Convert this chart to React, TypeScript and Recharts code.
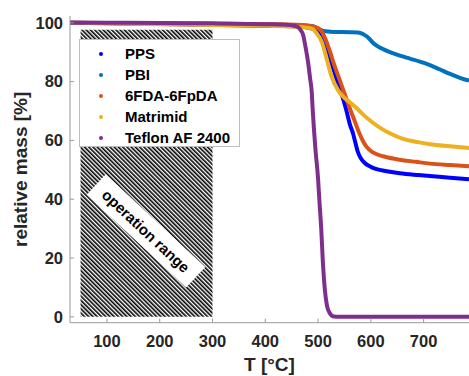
import React from 'react';
import {
  LineChart,
  Line,
  XAxis,
  YAxis,
  Legend,
  ReferenceArea,
  ReferenceDot,
} from 'recharts';

// TGA curves: [T in °C, relative mass in %]
const PPS = [
  [30, 100], [100, 99.8], [200, 99.6], [300, 99.3], [400, 99.0], [450, 98.8],
  [480, 98.4], [495, 97.6], [505, 95.5], [516, 90.5], [525, 86.5], [535, 81],
  [545, 75.5], [551, 72], [556, 68.5], [561, 65], [566, 62.5], [571, 59],
  [575, 56.3], [580, 54.2], [589, 52.2], [600, 51], [611, 50.2], [630, 49.5],
  [655, 48.8], [690, 48.2], [717, 47.8], [750, 47.3], [786, 46.8],
];

const PBI = [
  [30, 100], [100, 99.9], [200, 99.8], [300, 99.6], [400, 99.4], [460, 99.2],
  [490, 98.8], [500, 98], [510, 97.2], [530, 96.9], [560, 96.8], [575, 96.7],
  [585, 96.2], [592, 95.4], [598, 94.4], [604, 93.2], [611, 92.2], [620, 91.3],
  [636, 90], [655, 88.8], [674, 87.8], [693, 86.8], [712, 85.6], [730, 84.2],
  [750, 82.6], [770, 81.2], [786, 80.3],
];

const FDA = [
  [30, 100], [100, 99.9], [200, 99.8], [300, 99.7], [400, 99.5], [460, 99.3],
  [480, 99], [495, 98.6], [507, 97], [515, 94], [522, 90.5], [530, 86],
  [538, 82], [546, 78], [554, 74], [562, 70], [570, 66.3], [578, 62.5],
  [585, 59.8], [592, 57.8], [604, 55.9], [623, 54.6], [649, 53.6], [686, 52.7],
  [712, 52.1], [750, 51.6], [786, 51.2],
];

const MATRIMID = [
  [30, 100], [100, 99.8], [200, 99.5], [300, 99.2], [400, 99], [440, 98.8],
  [470, 98.5], [488, 98], [497, 96.5], [507, 93.5], [516, 88], [525, 82],
  [538, 77], [547, 75], [560, 73], [573, 71], [587, 68.5], [604, 66],
  [620, 64], [636, 62.4], [661, 60.5], [690, 59.4], [712, 58.7], [750, 58],
  [786, 57.4],
];

const TEFLON = [
  [30, 100], [100, 100], [200, 99.9], [300, 99.8], [400, 99.5], [440, 99.3],
  [455, 99], [462, 98.5], [467, 97.5], [472, 95.7], [476, 92], [481, 86.7],
  [485, 81], [488, 76.5], [490, 70], [495, 57], [500, 47], [502, 41],
  [506, 30], [509, 19], [513, 9], [517, 3.7], [522, 1.3], [528, 0.2],
  [540, 0], [786, 0],
];

const SERIES = [
  { name: 'PPS', color: '#0000ff', points: PPS },
  { name: 'PBI', color: '#0072bd', points: PBI },
  { name: '6FDA-6FpDA', color: '#d95319', points: FDA },
  { name: 'Matrimid', color: '#edb120', points: MATRIMID },
  { name: 'Teflon AF 2400', color: '#7e2f8e', points: TEFLON },
];

const X_TICKS = [100, 200, 300, 400, 500, 600, 700];
const Y_TICKS = [0, 20, 40, 60, 80, 100];
const OPERATION_RANGE = { from: 50, to: 300, top: 97.6 };

const FONT = '"Liberation Sans", Arial, sans-serif';
const AXIS_GREY = '#999999';
const TEXT_DARK = '#262626';

const toRows = (pts: number[][]) => pts.map(([t, m]) => ({ t, m }));

// legend keeps the plotting order (recharts would sort it by name)
function LegendBox() {
  return (
    <div
      style={{
        width: 161,
        height: 108,
        boxSizing: 'border-box',
        background: '#fff',
        border: '1px solid #bdbdbd',
        paddingTop: 3,
        fontFamily: FONT,
        fontWeight: 'bold',
        fontSize: 15,
        color: '#000',
      }}
    >
      {SERIES.map((s) => (
        <div key={s.name} style={{ height: 21, display: 'flex', alignItems: 'center' }}>
          <span
            style={{
              width: 4,
              height: 4,
              borderRadius: 2,
              background: s.color,
              marginLeft: 19,
              marginRight: 22,
            }}
          />
          <span>{s.name}</span>
        </div>
      ))}
    </div>
  );
}

function RangeLabel({ cx, cy }: any) {
  if (cx == null || cy == null) return null;
  return (
    <g transform={`rotate(43 ${cx} ${cy})`}>
      <rect x={cx - 68} y={cy - 14} width={136} height={28} fill="#fff" />
      <text
        x={cx}
        y={cy}
        textAnchor="middle"
        dominantBaseline="central"
        fontFamily={FONT}
        fontWeight="bold"
        fontSize={15}
        fill="#000"
      >
        operation range
      </text>
    </g>
  );
}

export default function App() {
  const tickStyle = { fill: TEXT_DARK, fontSize: 16.5, fontWeight: 'bold', fontFamily: FONT };
  return (
    <div style={{ position: 'absolute', left: 0, top: 0, width: 469, height: 376, background: '#fff' }}>
      <LineChart width={469} height={376} margin={{ top: 16, right: 0, bottom: 0, left: 0 }}>
        <defs>
          <pattern
            id="hatch"
            patternUnits="userSpaceOnUse"
            width={3}
            height={3}
            patternTransform="rotate(-45)"
          >
            <rect x={0} y={0} width={1.6} height={3} fill="#000" />
          </pattern>
        </defs>
        <XAxis
          dataKey="t"
          type="number"
          domain={[30, 786]}
          allowDataOverflow
          ticks={X_TICKS}
          height={53.3}
          tickSize={-4}
          tickMargin={17}
          tick={tickStyle}
          stroke={AXIS_GREY}
          label={{
            value: 'T [°C]',
            position: 'insideBottom',
            offset: 5,
            fill: TEXT_DARK,
            fontSize: 19,
            fontWeight: 'bold',
            fontFamily: FONT,
          }}
        />
        <XAxis
          xAxisId="top"
          orientation="top"
          type="number"
          domain={[30, 786]}
          ticks={X_TICKS}
          height={0}
          tickSize={-4}
          tickFormatter={() => ''}
          stroke={AXIS_GREY}
        />
        <YAxis
          type="number"
          domain={[-2, 102.3]}
          allowDataOverflow
          ticks={Y_TICKS}
          width={70}
          tickSize={-4}
          tickMargin={11}
          tick={tickStyle}
          stroke={AXIS_GREY}
          label={{
            value: 'relative mass [%]',
            angle: -90,
            position: 'insideLeft',
            offset: 20,
            fill: TEXT_DARK,
            fontSize: 19,
            fontWeight: 'bold',
            fontFamily: FONT,
            style: { textAnchor: 'middle' },
          }}
        />
        <ReferenceArea
          x1={OPERATION_RANGE.from}
          x2={OPERATION_RANGE.to}
          y1={0}
          y2={OPERATION_RANGE.top}
          fill="url(#hatch)"
          fillOpacity={1}
          stroke="none"
        />
        <ReferenceDot x={174} y={29.2} r={0} shape={RangeLabel} />
        {SERIES.map((s) => (
          <Line
            key={s.name}
            name={s.name}
            data={toRows(s.points)}
            dataKey="m"
            type="monotone"
            stroke={s.color}
            strokeWidth={4}
            dot={false}
            isAnimationActive={false}
          />
        ))}
        <Legend
          layout="vertical"
          align="center"
          verticalAlign="middle"
          content={LegendBox}
          wrapperStyle={{ left: 79, top: 39, width: 161, height: 108 }}
        />
      </LineChart>
    </div>
  );
}
